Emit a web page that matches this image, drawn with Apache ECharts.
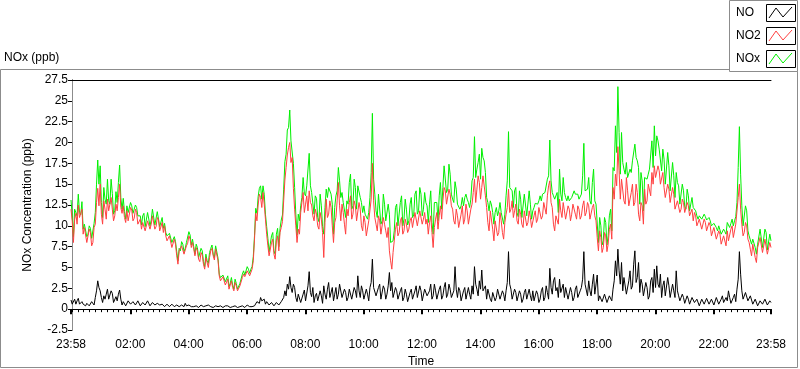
<!doctype html>
<html>
    <head>
        <meta charset="utf-8">
        <title>NOx (ppb)</title>
        <style>
            html, body { margin: 0; padding: 0; background: #fff; }
            #main { width: 800px; height: 369px; }
        </style>
    </head>
    <body>
        <div id="main"></div>
        <script src="https://cdn.jsdelivr.net/npm/echarts@6/dist/echarts.min.js"></script>
        <script>
            // readings every 5 min, the first at 23:58 the day before (-2 min);
            // the *Mid arrays are the readings 2.5 min after each of those
            var startMin = -2;
            var stepMin = 5;

            var no2Values = [
                12.0, 8.0, 11.5, 12.5, 10.8, 9.0, 9.6, 8.2, 9.2, 8.0,
                10.2, 14.5, 15.0, 10.2, 12.0, 13.2, 11.6, 12.0, 11.2, 11.8,
                15.0, 11.5, 11.0, 11.8, 10.8, 11.9, 10.9, 11.6, 10.4, 9.6,
                10.6, 9.3, 10.8, 10.2, 11.0, 9.9, 10.7, 9.6, 9.2, 8.8,
                8.1, 8.6, 7.5, 7.8, 5.4, 6.8, 7.4, 6.6, 7.9, 8.4,
                8.0, 6.4, 7.0, 5.7, 6.5, 4.8, 5.6, 6.2, 7.3, 5.9,
                7.0, 4.0, 3.2, 3.8, 3.0, 2.4, 3.4, 2.2, 2.8, 2.0,
                3.0, 4.2, 3.8, 4.4, 4.4, 5.8, 11.5, 12.5, 13.4, 14.0,
                10.8, 7.6, 6.2, 8.4, 6.0, 8.8, 9.2, 10.5, 15.5, 18.5,
                20.0, 18.2, 12.0, 8.0, 9.0, 12.8, 11.6, 13.6, 14.2, 12.5,
                10.6, 11.4, 9.6, 10.8, 6.2, 13.2, 11.4, 12.2, 8.0, 11.0,
                15.2, 10.6, 11.6, 9.0, 11.2, 13.6, 11.4, 12.4, 10.8, 12.0,
                9.4, 10.4, 9.0, 10.8, 17.5, 11.0, 9.4, 10.6, 9.2, 10.2,
                8.6, 7.0, 4.8, 8.2, 10.4, 9.2, 11.0, 9.4, 10.2, 9.6,
                11.0, 10.0, 11.4, 10.2, 11.6, 10.8, 10.2, 9.0, 11.2, 7.4,
                10.8, 9.6, 12.4, 13.0, 14.2, 12.6, 13.8, 12.0, 10.2, 11.2,
                9.8, 12.4, 10.8, 11.8, 10.4, 12.6, 15.6, 14.4, 15.2, 14.6,
                15.8, 12.2, 9.4, 11.6, 8.2, 10.8, 9.2, 10.6, 8.4, 11.4,
                14.4, 12.0, 11.0, 12.6, 10.2, 11.4, 9.8, 11.6, 10.4, 11.0,
                9.6, 11.8, 10.8, 12.4, 11.2, 12.6, 13.6, 15.4, 12.2, 9.4,
                11.4, 13.2, 11.0, 12.6, 10.6, 12.0, 11.4, 12.8, 10.8, 12.0,
                11.2, 13.0, 11.6, 12.4, 11.0, 12.6, 10.6, 7.0, 8.6, 7.4,
                8.8, 7.8, 10.2, 14.6, 16.2, 19.5, 13.2, 15.4, 12.6, 14.2,
                12.2, 15.0, 12.8, 14.0, 10.6, 12.4, 14.4, 13.0, 15.2, 16.4,
                17.2, 15.6, 16.6, 15.2, 14.6, 13.2, 14.4, 12.8, 13.8, 11.8,
                13.2, 12.0, 12.8, 11.4, 12.4, 11.0, 10.6, 11.2, 9.8, 10.6,
                9.4, 10.4, 9.2, 10.0, 8.8, 9.6, 8.2, 9.0, 7.6, 8.6,
                9.4, 8.4, 10.0, 8.8, 10.4, 15.0, 10.2, 9.2, 10.0, 8.0,
                6.4, 7.6, 5.6, 7.2, 8.4, 7.0, 8.2, 6.8, 7.4
            ];

            var no2Mid = [
                10.6, 10.8, 10.2, 11.0, 12.0, 9.8, 8.0, 9.6, 7.6, 9.8,
                12.8, 12.4, 11.4, 13.0, 10.8, 11.8, 13.4, 10.6, 12.6, 13.4,
                12.2, 12.4, 10.4, 10.6, 12.2, 10.6, 12.0, 10.2, 10.8, 10.4,
                9.4, 10.6, 9.6, 11.2, 9.6, 11.0, 9.4, 10.4, 10.0, 8.2,
                8.8, 7.4, 8.4, 6.4, 7.0, 7.6, 6.6, 7.6, 8.8, 7.4,
                7.2, 7.4, 6.0, 6.8, 5.4, 6.2, 5.0, 7.0, 6.4, 7.2,
                5.8, 3.4, 3.9, 2.9, 3.6, 2.9, 2.6, 3.2, 2.2, 2.8,
                3.8, 3.9, 4.6, 4.0, 4.8, 8.4, 10.6, 13.8, 12.2, 12.6,
                9.0, 6.4, 8.0, 6.6, 8.2, 7.0, 9.8, 13.0, 17.0, 19.4,
                17.6, 14.5, 10.0, 9.6, 11.6, 14.0, 12.6, 11.8, 12.8, 11.2,
                12.0, 10.0, 11.6, 9.2, 10.4, 11.0, 13.0, 10.0, 10.4, 13.0,
                12.4, 12.6, 10.2, 12.0, 12.8, 10.8, 13.0, 10.6, 12.8, 10.0,
                11.2, 8.8, 10.6, 13.2, 13.0, 10.2, 11.2, 9.0, 11.0, 9.4,
                9.8, 5.8, 6.8, 9.6, 8.8, 10.6, 9.0, 10.8, 9.2, 10.6,
                9.8, 11.6, 10.0, 11.8, 10.2, 11.6, 10.8, 10.4, 9.2, 9.8,
                11.6, 11.2, 10.8, 14.6, 12.6, 14.4, 12.4, 10.6, 12.0, 9.8,
                11.4, 10.2, 12.6, 10.2, 12.0, 14.0, 12.8, 16.0, 13.2, 16.0,
                13.6, 10.4, 11.8, 9.6, 10.6, 8.8, 11.6, 9.2, 10.4, 12.2,
                11.6, 13.0, 11.8, 10.6, 12.0, 10.2, 11.8, 10.0, 11.8, 9.8,
                11.2, 10.4, 12.2, 10.8, 12.8, 11.4, 14.8, 12.8, 10.2, 11.2,
                10.2, 11.8, 12.8, 10.8, 12.4, 10.6, 12.6, 11.4, 12.4, 10.8,
                12.4, 11.2, 12.8, 10.8, 12.2, 11.2, 8.6, 9.4, 6.8, 9.2,
                6.9, 9.6, 8.4, 13.2, 14.8, 16.6, 15.6, 13.0, 15.8, 12.4,
                14.0, 12.4, 15.0, 11.4, 12.8, 10.2, 12.6, 15.0, 13.6, 15.0,
                15.8, 17.2, 15.0, 16.4, 13.4, 15.0, 12.8, 14.6, 12.0, 13.0,
                11.6, 13.2, 11.6, 12.8, 11.2, 12.0, 11.6, 10.0, 10.8, 9.6,
                10.8, 9.4, 10.4, 8.8, 9.8, 8.4, 9.4, 7.8, 8.8, 7.6,
                8.2, 9.6, 8.6, 10.2, 13.4, 12.0, 8.8, 10.4, 8.4, 7.2,
                7.8, 6.2, 7.4, 8.6, 6.8, 8.4, 6.6, 8.0
            ];

            var noValues = [
                1.1, 0.7, 0.6, 1.3, 0.5, 0.6, 0.4, 0.8, 0.5, 0.7,
                1.4, 3.4, 2.2, 0.8, 1.2, 2.4, 1.0, 1.9, 0.6, 1.0,
                2.3, 0.5, 0.7, 0.6, 0.9, 0.5, 1.1, 0.6, 0.8, 0.5,
                0.9, 0.6, 0.7, 0.5, 0.9, 0.4, 0.8, 0.3, 0.5, 0.4,
                0.6, 0.3, 0.5, 0.3, 0.4, 0.2, 0.4, 0.7, 0.3, 0.5,
                0.4, 0.2, 0.4, 0.3, 0.5, 0.3, 0.2, 0.6, 0.4, 0.3,
                0.5, 0.2, 0.4, 0.3, 0.2, 0.3, 0.4, 0.2, 0.3, 0.4,
                0.3, 0.4, 0.3, 0.4, 0.4, 0.5, 0.6, 1.0, 1.4, 0.8,
                0.6, 0.9, 0.5, 0.8, 0.6, 0.9, 0.5, 0.8, 2.2, 3.0,
                3.9, 2.0, 2.6, 0.9, 1.6, 0.6, 2.3, 1.2, 4.5, 1.5,
                0.8, 1.9, 0.9, 1.6, 2.8, 1.2, 3.2, 1.6, 1.0, 2.6,
                1.8, 2.8, 1.2, 2.0, 1.4, 2.6, 1.0, 2.2, 4.0, 1.4,
                2.2, 1.0, 1.8, 2.6, 6.0, 2.8, 1.6, 3.0, 1.4, 2.4,
                1.8, 4.4, 3.2, 1.2, 2.2, 1.0, 2.6, 1.4, 1.8, 1.0,
                2.4, 1.3, 2.8, 1.6, 2.2, 1.2, 2.6, 1.4, 3.0, 1.6,
                2.2, 1.0, 2.8, 1.6, 3.2, 1.8, 2.4, 1.2, 5.1, 1.4,
                2.2, 1.0, 2.6, 1.4, 1.8, 2.8, 5.1, 2.4, 3.4, 4.7,
                2.0, 1.2, 2.4, 0.9, 2.0, 1.4, 2.6, 1.0, 1.8, 2.2,
                6.9, 2.4, 1.2, 2.0, 0.9, 1.8, 1.2, 2.4, 1.0, 1.6,
                2.2, 0.9, 1.8, 1.2, 2.6, 1.4, 2.0, 4.9, 1.8, 3.8,
                2.6, 3.6, 2.0, 1.4, 2.4, 1.0, 2.0, 1.4, 2.8, 1.2,
                2.6, 6.9, 2.8, 3.4, 1.6, 4.2, 2.0, 1.0, 1.4, 0.8,
                1.6, 1.0, 1.8, 2.4, 5.8, 7.2, 3.0, 2.2, 3.6, 1.6,
                4.6, 2.8, 7.0, 3.8, 2.0, 3.0, 1.4, 2.6, 1.6, 3.8,
                4.8, 5.2, 2.6, 1.4, 3.4, 1.8, 2.8, 1.2, 2.2, 4.6,
                1.6, 0.8, 1.4, 0.6, 1.2, 0.8, 1.6, 0.6, 1.0, 0.5,
                1.2, 0.7, 1.4, 0.6, 1.0, 0.5, 1.2, 0.8, 1.6, 0.7,
                1.0, 1.4, 0.8, 1.8, 2.4, 6.9, 2.2, 1.0, 1.8, 0.8,
                1.4, 0.6, 1.0, 0.5, 1.2, 0.6, 1.0, 0.4, 0.8
            ];

            var noMid = [
                0.6, 1.2, 1.0, 0.6, 0.9, 0.4, 0.7, 0.4, 0.9, 0.5,
                2.2, 2.6, 1.4, 1.6, 1.8, 1.2, 2.2, 0.8, 1.5, 1.8,
                1.2, 0.9, 0.4, 1.0, 0.6, 0.9, 0.5, 1.0, 0.4, 0.8,
                0.5, 1.0, 0.4, 0.8, 0.5, 0.7, 0.5, 0.6, 0.3, 0.6,
                0.3, 0.6, 0.3, 0.5, 0.3, 0.5, 0.3, 0.4, 0.5, 0.3,
                0.3, 0.4, 0.2, 0.5, 0.3, 0.4, 0.5, 0.3, 0.2, 0.4,
                0.3, 0.4, 0.2, 0.4, 0.4, 0.2, 0.3, 0.4, 0.2, 0.3,
                0.4, 0.2, 0.5, 0.3, 0.3, 0.4, 0.9, 0.7, 1.0, 1.2,
                0.9, 0.5, 0.8, 0.4, 0.8, 0.5, 0.9, 1.4, 1.6, 2.4,
                2.6, 3.0, 1.4, 1.8, 0.8, 1.8, 1.0, 2.8, 2.0, 2.6,
                1.6, 1.0, 2.2, 0.7, 1.8, 2.4, 1.4, 2.6, 1.8, 1.2,
                3.0, 1.4, 2.4, 1.0, 2.4, 1.2, 2.6, 1.4, 2.2, 2.8,
                1.2, 2.4, 1.0, 3.2, 2.6, 1.6, 2.6, 1.2, 2.8, 1.2,
                2.8, 2.2, 1.4, 2.6, 1.2, 2.2, 1.0, 2.4, 0.9, 2.0,
                1.2, 2.2, 1.4, 2.8, 1.0, 2.4, 1.6, 2.2, 1.2, 3.0,
                1.2, 2.4, 1.2, 2.6, 1.4, 3.0, 1.4, 2.2, 2.4, 2.6,
                1.0, 2.2, 1.2, 2.6, 1.2, 1.8, 3.0, 1.6, 2.4, 2.2,
                2.8, 2.4, 1.2, 2.0, 1.0, 2.4, 1.2, 2.2, 1.0, 3.2,
                3.0, 1.2, 2.4, 1.0, 2.2, 0.8, 2.0, 1.2, 2.4, 1.0,
                1.0, 2.2, 0.8, 2.2, 1.0, 2.8, 1.2, 2.6, 3.4, 2.2,
                1.4, 2.0, 3.0, 2.6, 1.2, 2.6, 1.0, 2.4, 1.4, 2.2,
                3.6, 3.0, 1.6, 2.2, 3.0, 1.8, 4.1, 1.6, 0.9, 1.8,
                0.8, 1.6, 1.0, 3.4, 4.0, 4.6, 5.6, 3.8, 1.8, 3.4,
                2.4, 5.4, 3.2, 5.6, 3.6, 1.6, 3.2, 1.2, 3.4, 2.0,
                2.6, 3.0, 4.2, 2.8, 1.6, 3.8, 1.4, 3.0, 1.4, 2.2,
                1.0, 1.8, 0.7, 1.6, 0.6, 1.4, 0.8, 1.2, 0.4, 1.2,
                0.6, 1.3, 0.6, 1.2, 0.5, 1.4, 0.6, 1.2, 0.8, 1.4,
                2.2, 0.7, 1.4, 0.9, 3.6, 4.2, 1.2, 2.0, 1.0, 1.6,
                0.6, 1.2, 0.4, 1.0, 0.6, 1.2, 0.5, 1.0
            ];

            // x axis in minutes after midnight
            var labelMinutes = [-2, 120, 240, 360, 480, 600, 720, 840, 960, 1080, 1200, 1320, 1438];
            var minorTickMinutes = [-2];
            for (var m = 0; m < 1438; m += 12) minorTickMinutes.push(m);
            minorTickMinutes.push(1438);

            function fmtTime(v) {
                var m = ((Math.round(v) % 1440) + 1440) % 1440;
                var h = Math.floor(m / 60), mm = m % 60;
                return (h < 10 ? '0' : '') + h + ':' + (mm < 10 ? '0' : '') + mm;
            }

            // merge the on-step and half-step readings into one time-ordered list
            function pairs(vals, mids) {
                var out = [];
                vals.forEach(function (v, i) {
                    out.push([startMin + i * stepMin, v]);
                    if (i < mids.length) out.push([startMin + i * stepMin + stepMin / 2, mids[i]]);
                });
                return out;
            }
            function sum(a, b) {
                return a.map(function (v, i) { return Math.round((v + b[i]) * 10) / 10; });
            }
            var noxValues = sum(no2Values, noValues);
            var noxMid = sum(no2Mid, noMid);

            var font = 'Liberation Sans';
            var green = '#00f000', red = '#ff4040';
            var chart = echarts.init(document.getElementById('main'));

            var graphics = [
                { type: 'rect', z: -10, shape: { x: 0.5, y: 69.5, width: 797, height: 298 },
                  style: { fill: '#fff', stroke: '#8c8c8c', lineWidth: 1 } },
                { type: 'rect', z: 10, shape: { x: 729.5, y: 0.5, width: 68, height: 71 },
                  style: { fill: '#fff', stroke: '#8c8c8c', lineWidth: 1 } }
            ];
            [['NO', '#000000', 4], ['NO2', red, 27], ['NOx', green, 50]].forEach(function (it) {
                var y = it[2];
                graphics.push(
                    { type: 'text', z: 11, x: 736, y: y + 9,
                      style: { text: it[0], fontFamily: font, fontSize: 12, fill: '#000', verticalAlign: 'middle' } },
                    { type: 'rect', z: 11, shape: { x: 766.5, y: y + 0.5, width: 29, height: 17 },
                      style: { fill: '#fff', stroke: '#000', lineWidth: 1 } },
                    { type: 'polyline', z: 12, shape: { points: [[769, y + 14], [776, y + 4], [783, y + 13], [792, y + 3]] },
                      style: { stroke: it[1], lineWidth: 1, fill: null } }
                );
            });

            chart.setOption({
                animation: false,
                backgroundColor: '#fff',
                textStyle: { fontFamily: font },
                title: {
                    text: 'NOx (ppb)',
                    left: 4, top: 52, padding: 0,
                    textStyle: { fontSize: 12, fontWeight: 'normal', color: '#000', fontFamily: font }
                },
                graphic: graphics,
                grid: { left: 71, right: 29, top: 80, bottom: 39, show: false, outerBoundsMode: 'none', containLabel: false },
                xAxis: [{
                    type: 'value',
                    min: -2, max: 1438,
                    name: 'Time',
                    nameLocation: 'middle',
                    nameGap: 24,
                    nameTextStyle: { fontSize: 12, color: '#000' },
                    axisLine: { show: true, lineStyle: { color: '#000', width: 1 } },
                    axisTick: { show: true, length: 3, customValues: minorTickMinutes, lineStyle: { color: '#000' } },
                    axisLabel: {
                        show: true, customValues: labelMinutes, margin: 9,
                        fontSize: 12, color: '#000',
                        formatter: function (v) { return fmtTime(v); }
                    },
                    splitLine: { show: false }
                }, {
                    type: 'value',
                    min: -2, max: 1438,
                    position: 'bottom',
                    axisLine: { show: false },
                    axisTick: { show: true, length: 5, customValues: labelMinutes, lineStyle: { color: '#000', width: 2 } },
                    axisLabel: { show: false },
                    splitLine: { show: false }
                }, {
                    type: 'value',
                    min: -2, max: 1438,
                    position: 'top',
                    axisLine: { show: true, lineStyle: { color: '#000', width: 1 } },
                    axisTick: { show: false },
                    axisLabel: { show: false },
                    splitLine: { show: false }
                }],
                yAxis: [{
                    type: 'value',
                    min: -2.5, max: 27.5, interval: 2.5,
                    name: 'NOx Concentration (ppb)',
                    nameLocation: 'middle',
                    nameGap: 31,
                    nameTextStyle: { fontSize: 12, color: '#000' },
                    axisLine: { show: true, lineStyle: { color: '#000', width: 1 } },
                    axisTick: { show: true, length: 4, lineStyle: { color: '#000' } },
                    axisLabel: { fontSize: 12, color: '#000', margin: 3 },
                    splitLine: { show: false }
                }, {
                    type: 'value',
                    min: -2.5, max: 27.5,
                    position: 'right',
                    axisLine: { show: true, lineStyle: { color: '#8c8c8c', width: 1 } },
                    axisTick: { show: false },
                    axisLabel: { show: false },
                    splitLine: { show: false }
                }],
                series: [{
                    name: 'NOx', type: 'line', data: pairs(noxValues, noxMid),
                    showSymbol: false, symbol: 'none',
                    lineStyle: { color: green, width: 1 }, itemStyle: { color: green }
                }, {
                    name: 'NO2', type: 'line', data: pairs(no2Values, no2Mid),
                    showSymbol: false, symbol: 'none',
                    lineStyle: { color: red, width: 1 }, itemStyle: { color: red }
                }, {
                    name: 'NO', type: 'line', data: pairs(noValues, noMid),
                    showSymbol: false, symbol: 'none',
                    lineStyle: { color: '#000', width: 1 }, itemStyle: { color: '#000' }
                }]
            });
            window.addEventListener('resize', function () {
                chart.resize();
            });
        </script>
    </body>
</html>
